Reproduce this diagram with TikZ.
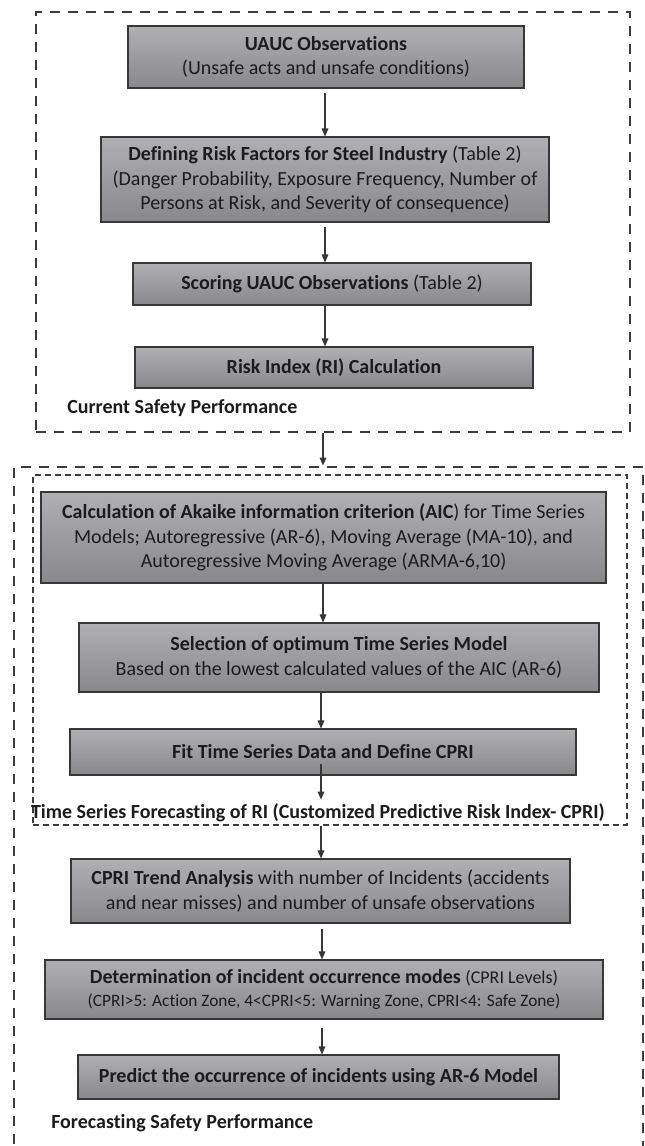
\documentclass[tikz,border=0pt]{standalone}
\usepackage{fontspec}
\setmainfont{Carlito}[Ligatures={NoCommon}]
\usetikzlibrary{arrows.meta,shadings,calc}
\definecolor{frame}{RGB}{60,60,60}
\definecolor{boxtop}{RGB}{176,176,180}
\definecolor{boxbot}{RGB}{136,136,140}
\definecolor{boxline}{RGB}{55,55,55}
\definecolor{txt}{RGB}{28,28,28}
\begin{document}
\begin{tikzpicture}[x=0.75pt,y=-0.75pt,
  sz/.style 2 args={minimum width=#1*0.75pt,minimum height=#2*0.75pt},
  box/.style={draw=boxline,line width=0.8pt,top color=boxtop,bottom color=boxbot,text=txt,align=center,inner sep=0pt,font=\fontsize{15}{18.5}\selectfont},
  outer/.style={draw=frame,line width=2.2pt,dash pattern=on 7.5pt off 6pt,inner sep=0pt},
  innerframe/.style={draw=frame,line width=0.9pt,dash pattern=on 4.5pt off 3pt,inner sep=0pt},
  arr/.style={draw=boxline,line width=0.8pt,-{Triangle[length=6pt,width=5pt]}},
  lbl/.style={text=txt,font=\fontsize{15}{17}\selectfont\bfseries,inner sep=0pt}
]
\useasboundingbox (0,0) rectangle (645,1146);
\clip (0,0) rectangle (645,1146);
\fill[white] (0,0) rectangle (645,1146);

% frames
\node[outer, sz={594}{420}] (o1) at (333,222) {};
\node[outer, sz={629}{703}] (o2) at (328.5,818.5) {};
\node[innerframe, sz={594}{350}] (in) at (330,650) {};

% axes for connectors
\coordinate (ax) at (325,0);
\coordinate (bx) at (323,0);
\coordinate (cx) at (321,0);
\coordinate (dx) at (322,0);

% upper part
\node[box, sz={396}{62}] (A) at (326,57) {\textbf{UAUC Observations}\\(Unsafe acts and unsafe conditions)};
\node[box, sz={448}{85}] (B) at (325,179.5) {\textbf{Defining Risk Factors for Steel Industry} (Table 2)\\(Danger Probability, Exposure Frequency, Number of\\Persons at Risk, and Severity of consequence)};
\node[box, sz={398}{42}] (C) at (332,284) {\textbf{Scoring UAUC Observations} (Table 2)};
\node[box, sz={398}{41}] (D) at (334,367.5) {\textbf{Risk Index (RI) Calculation}};
\node[lbl, anchor=west] (l1) at (67,408) {Current Safety Performance};

% lower part
\node[box, sz={565}{91}] (E) at (323.5,537.5) {\textbf{Calculation of Akaike information criterion (AIC}) for Time Series\\Models; Autoregressive (AR-6), Moving Average (MA-10), and\\Autoregressive Moving Average (ARMA-6,10)};
\node[box, sz={520}{69}] (F) at (339,657.5) {\textbf{Selection of optimum Time Series Model}\\Based on the lowest calculated values of the AIC (AR-6)};
\node[box, sz={506}{46}] (G) at (323,752) {\textbf{Fit Time Series Data and Define CPRI}};
\node[lbl] (l2) at (318,813) {Time Series Forecasting of RI (Customized Predictive Risk Index- CPRI)};
\node[box, sz={499}{64}] (H) at (320.5,891) {\textbf{CPRI Trend Analysis} with number of Incidents (accidents\\and near misses) and number of unsafe observations};
\node[box, sz={558}{59}, font=\fontsize{15}{17}\selectfont] (I) at (324,989.5) {\textbf{Determination of incident occurrence modes} {\fontsize{13.5}{15}\selectfont(CPRI Levels)}\\{\fontsize{13}{17}\selectfont(CPRI>5: Action Zone, 4<CPRI<5: Warning Zone, CPRI<4: Safe Zone)}};
\node[box, sz={481}{44}] (J) at (318.5,1077) {\textbf{Predict the occurrence of incidents using AR-6 Model}};
\node[lbl, anchor=west] (l3) at (51,1123) {Forecasting Safety Performance};

% connectors
\draw[arr, shorten <=3.5pt] (A.south -| ax) -- (B.north -| ax);
\draw[arr, shorten <=3.5pt] (B.south -| ax) -- (C.north -| ax);
\draw[arr] (C.south -| ax) -- (D.north -| ax);
\draw[arr] (o1.south -| bx) -- (o2.north -| bx);
\draw[arr] (E.south -| bx) -- (F.north -| bx);
\draw[arr] (F.south -| cx) -- (G.north -| cx);
\draw[arr] ([yshift=9pt]G.south -| cx) -- ([yshift=3pt]l2.north -| cx);
\draw[arr] (in.south -| cx) -- (H.north -| cx);
\draw[arr, shorten <=4pt] (H.south -| dx) -- (I.north -| dx);
\draw[arr, shorten <=6pt] (I.south -| dx) -- (J.north -| dx);
\end{tikzpicture}
\end{document}
